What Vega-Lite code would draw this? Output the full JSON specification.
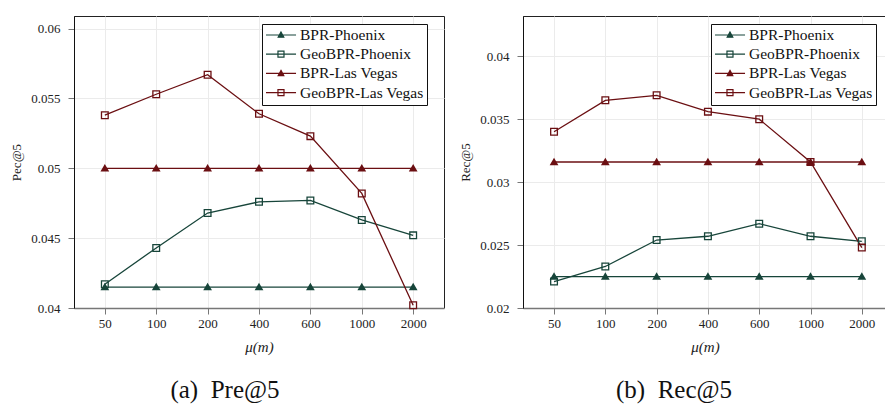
{
  "$schema": "https://vega.github.io/schema/vega-lite/v6.json",
  "padding": {"left": 10, "top": 15, "right": 0, "bottom": 0},
  "spacing": 14,
  "datasets": {
    "scores": [
      {"metric": "Pre@5", "series": "BPR-Phoenix", "mu": "50", "value": 0.0415},
      {"metric": "Pre@5", "series": "BPR-Phoenix", "mu": "100", "value": 0.0415},
      {"metric": "Pre@5", "series": "BPR-Phoenix", "mu": "200", "value": 0.0415},
      {"metric": "Pre@5", "series": "BPR-Phoenix", "mu": "400", "value": 0.0415},
      {"metric": "Pre@5", "series": "BPR-Phoenix", "mu": "600", "value": 0.0415},
      {"metric": "Pre@5", "series": "BPR-Phoenix", "mu": "1000", "value": 0.0415},
      {"metric": "Pre@5", "series": "BPR-Phoenix", "mu": "2000", "value": 0.0415},
      {"metric": "Pre@5", "series": "GeoBPR-Phoenix", "mu": "50", "value": 0.0417},
      {"metric": "Pre@5", "series": "GeoBPR-Phoenix", "mu": "100", "value": 0.0443},
      {"metric": "Pre@5", "series": "GeoBPR-Phoenix", "mu": "200", "value": 0.0468},
      {"metric": "Pre@5", "series": "GeoBPR-Phoenix", "mu": "400", "value": 0.0476},
      {"metric": "Pre@5", "series": "GeoBPR-Phoenix", "mu": "600", "value": 0.0477},
      {"metric": "Pre@5", "series": "GeoBPR-Phoenix", "mu": "1000", "value": 0.0463},
      {"metric": "Pre@5", "series": "GeoBPR-Phoenix", "mu": "2000", "value": 0.0452},
      {"metric": "Pre@5", "series": "BPR-Las Vegas", "mu": "50", "value": 0.05},
      {"metric": "Pre@5", "series": "BPR-Las Vegas", "mu": "100", "value": 0.05},
      {"metric": "Pre@5", "series": "BPR-Las Vegas", "mu": "200", "value": 0.05},
      {"metric": "Pre@5", "series": "BPR-Las Vegas", "mu": "400", "value": 0.05},
      {"metric": "Pre@5", "series": "BPR-Las Vegas", "mu": "600", "value": 0.05},
      {"metric": "Pre@5", "series": "BPR-Las Vegas", "mu": "1000", "value": 0.05},
      {"metric": "Pre@5", "series": "BPR-Las Vegas", "mu": "2000", "value": 0.05},
      {"metric": "Pre@5", "series": "GeoBPR-Las Vegas", "mu": "50", "value": 0.0538},
      {"metric": "Pre@5", "series": "GeoBPR-Las Vegas", "mu": "100", "value": 0.0553},
      {"metric": "Pre@5", "series": "GeoBPR-Las Vegas", "mu": "200", "value": 0.0567},
      {"metric": "Pre@5", "series": "GeoBPR-Las Vegas", "mu": "400", "value": 0.0539},
      {"metric": "Pre@5", "series": "GeoBPR-Las Vegas", "mu": "600", "value": 0.0523},
      {"metric": "Pre@5", "series": "GeoBPR-Las Vegas", "mu": "1000", "value": 0.0482},
      {"metric": "Pre@5", "series": "GeoBPR-Las Vegas", "mu": "2000", "value": 0.0402},
      {"metric": "Rec@5", "series": "BPR-Phoenix", "mu": "50", "value": 0.0225},
      {"metric": "Rec@5", "series": "BPR-Phoenix", "mu": "100", "value": 0.0225},
      {"metric": "Rec@5", "series": "BPR-Phoenix", "mu": "200", "value": 0.0225},
      {"metric": "Rec@5", "series": "BPR-Phoenix", "mu": "400", "value": 0.0225},
      {"metric": "Rec@5", "series": "BPR-Phoenix", "mu": "600", "value": 0.0225},
      {"metric": "Rec@5", "series": "BPR-Phoenix", "mu": "1000", "value": 0.0225},
      {"metric": "Rec@5", "series": "BPR-Phoenix", "mu": "2000", "value": 0.0225},
      {"metric": "Rec@5", "series": "GeoBPR-Phoenix", "mu": "50", "value": 0.0221},
      {"metric": "Rec@5", "series": "GeoBPR-Phoenix", "mu": "100", "value": 0.0233},
      {"metric": "Rec@5", "series": "GeoBPR-Phoenix", "mu": "200", "value": 0.0254},
      {"metric": "Rec@5", "series": "GeoBPR-Phoenix", "mu": "400", "value": 0.0257},
      {"metric": "Rec@5", "series": "GeoBPR-Phoenix", "mu": "600", "value": 0.0267},
      {"metric": "Rec@5", "series": "GeoBPR-Phoenix", "mu": "1000", "value": 0.0257},
      {"metric": "Rec@5", "series": "GeoBPR-Phoenix", "mu": "2000", "value": 0.0253},
      {"metric": "Rec@5", "series": "BPR-Las Vegas", "mu": "50", "value": 0.0316},
      {"metric": "Rec@5", "series": "BPR-Las Vegas", "mu": "100", "value": 0.0316},
      {"metric": "Rec@5", "series": "BPR-Las Vegas", "mu": "200", "value": 0.0316},
      {"metric": "Rec@5", "series": "BPR-Las Vegas", "mu": "400", "value": 0.0316},
      {"metric": "Rec@5", "series": "BPR-Las Vegas", "mu": "600", "value": 0.0316},
      {"metric": "Rec@5", "series": "BPR-Las Vegas", "mu": "1000", "value": 0.0316},
      {"metric": "Rec@5", "series": "BPR-Las Vegas", "mu": "2000", "value": 0.0316},
      {"metric": "Rec@5", "series": "GeoBPR-Las Vegas", "mu": "50", "value": 0.034},
      {"metric": "Rec@5", "series": "GeoBPR-Las Vegas", "mu": "100", "value": 0.0365},
      {"metric": "Rec@5", "series": "GeoBPR-Las Vegas", "mu": "200", "value": 0.0369},
      {"metric": "Rec@5", "series": "GeoBPR-Las Vegas", "mu": "400", "value": 0.0356},
      {"metric": "Rec@5", "series": "GeoBPR-Las Vegas", "mu": "600", "value": 0.035},
      {"metric": "Rec@5", "series": "GeoBPR-Las Vegas", "mu": "1000", "value": 0.0316},
      {"metric": "Rec@5", "series": "GeoBPR-Las Vegas", "mu": "2000", "value": 0.0248}
    ]
  },
  "data": {"name": "scores"},
  "hconcat": [
    {
      "width": 370,
      "height": 292,
      "title": {"text": "(a)\u00a0\u00a0Pre@5", "orient": "bottom", "anchor": "middle", "dx": -34, "offset": 24},
      "transform": [{"filter": "datum.metric === 'Pre@5'"}],
      "encoding": {
        "x": {"field": "mu", "type": "ordinal", "sort": ["50", "100", "200", "400", "600", "1000", "2000"], "scale": {"type": "point", "padding": 0.6}, "axis": {"title": "μ(m)", "labelAngle": 0, "grid": true}},
        "y": {"field": "value", "type": "quantitative", "scale": {"domain": [0.04, 0.0609], "nice": false, "zero": false}, "axis": {"title": "Pec@5", "values": [0.04, 0.045, 0.05, 0.055, 0.06], "format": ".3~f"}},
        "stroke": {"field": "series", "type": "nominal",
          "scale": {"domain": ["BPR-Phoenix", "GeoBPR-Phoenix", "BPR-Las Vegas", "GeoBPR-Las Vegas"], "range": ["#17453a", "#17453a", "#6b0f12", "#6b0f12"]},
          "legend": {"orient": "none", "legendX": 188, "legendY": 8, "title": null, "symbolSize": 196}}
      },
      "layer": [
        {"mark": {"type": "line", "strokeWidth": 1.3}},
        {
          "transform": [{"filter": "indexof(datum.series, 'Geo') < 0"}],
          "mark": {"type": "point", "shape": "triangle-up", "filled": true, "size": 28, "opacity": 1},
          "encoding": {"fill": {"field": "series", "type": "nominal"}}
        },
        {
          "transform": [{"filter": "indexof(datum.series, 'Geo') >= 0"}],
          "mark": {"type": "point", "shape": "square", "filled": false, "size": 45, "strokeWidth": 1.3, "opacity": 1}
        },
        {
          "mark": {"type": "point", "filled": false, "size": 0, "opacity": 1},
          "encoding": {
            "fill": {"field": "series", "type": "nominal",
              "scale": {"domain": ["BPR-Phoenix", "GeoBPR-Phoenix", "BPR-Las Vegas", "GeoBPR-Las Vegas"], "range": ["#17453a", "transparent", "#6b0f12", "transparent"]},
              "legend": {"orient": "none", "legendX": 188, "legendY": 8, "title": null, "symbolSize": 196}},
            "shape": {"field": "series", "type": "nominal",
              "scale": {"domain": ["BPR-Phoenix", "GeoBPR-Phoenix", "BPR-Las Vegas", "GeoBPR-Las Vegas"],
                "range": ["M-1,0H3.29M1.14,-0.43L1.54,0.31L0.74,0.31Z", "M-1,0H3.29M0.71,-0.43H1.57V0.43H0.71Z", "M-1,0H3.29M1.14,-0.43L1.54,0.31L0.74,0.31Z", "M-1,0H3.29M0.71,-0.43H1.57V0.43H0.71Z"]},
              "legend": {"orient": "none", "legendX": 188, "legendY": 8, "title": null, "symbolSize": 196}}
          }
        }
      ]
    },
    {
      "width": 364,
      "height": 292,
      "title": {"text": "(b)\u00a0\u00a0Rec@5", "orient": "bottom", "anchor": "middle", "dx": -31, "offset": 24},
      "transform": [{"filter": "datum.metric === 'Rec@5'"}],
      "encoding": {
        "x": {"field": "mu", "type": "ordinal", "sort": ["50", "100", "200", "400", "600", "1000", "2000"], "scale": {"type": "point", "padding": 0.548, "align": 0.552}, "axis": {"title": "μ(m)", "labelAngle": 0, "grid": true}},
        "y": {"field": "value", "type": "quantitative", "scale": {"domain": [0.02, 0.0432], "nice": false, "zero": false}, "axis": {"title": "Rec@5", "values": [0.02, 0.025, 0.03, 0.035, 0.04], "format": ".3~f"}},
        "stroke": {"field": "series", "type": "nominal",
          "scale": {"domain": ["BPR-Phoenix", "GeoBPR-Phoenix", "BPR-Las Vegas", "GeoBPR-Las Vegas"], "range": ["#17453a", "#17453a", "#6b0f12", "#6b0f12"]},
          "legend": {"orient": "none", "legendX": 188, "legendY": 8, "title": null, "symbolSize": 196}}
      },
      "layer": [
        {"mark": {"type": "line", "strokeWidth": 1.3}},
        {
          "transform": [{"filter": "indexof(datum.series, 'Geo') < 0"}],
          "mark": {"type": "point", "shape": "triangle-up", "filled": true, "size": 28, "opacity": 1},
          "encoding": {"fill": {"field": "series", "type": "nominal"}}
        },
        {
          "transform": [{"filter": "indexof(datum.series, 'Geo') >= 0"}],
          "mark": {"type": "point", "shape": "square", "filled": false, "size": 45, "strokeWidth": 1.3, "opacity": 1}
        },
        {
          "mark": {"type": "point", "filled": false, "size": 0, "opacity": 1},
          "encoding": {
            "fill": {"field": "series", "type": "nominal",
              "scale": {"domain": ["BPR-Phoenix", "GeoBPR-Phoenix", "BPR-Las Vegas", "GeoBPR-Las Vegas"], "range": ["#17453a", "transparent", "#6b0f12", "transparent"]},
              "legend": {"orient": "none", "legendX": 188, "legendY": 8, "title": null, "symbolSize": 196}},
            "shape": {"field": "series", "type": "nominal",
              "scale": {"domain": ["BPR-Phoenix", "GeoBPR-Phoenix", "BPR-Las Vegas", "GeoBPR-Las Vegas"],
                "range": ["M-1,0H3.29M1.14,-0.43L1.54,0.31L0.74,0.31Z", "M-1,0H3.29M0.71,-0.43H1.57V0.43H0.71Z", "M-1,0H3.29M1.14,-0.43L1.54,0.31L0.74,0.31Z", "M-1,0H3.29M0.71,-0.43H1.57V0.43H0.71Z"]},
              "legend": {"orient": "none", "legendX": 188, "legendY": 8, "title": null, "symbolSize": 196}}
          }
        }
      ]
    }
  ],
  "resolve": {"scale": {"stroke": "independent", "fill": "independent", "shape": "independent"}},
  "config": {
    "font": "Liberation Serif",
    "view": {"stroke": "#222", "strokeWidth": 1},
    "title": {"font": "Liberation Serif", "fontSize": 25, "fontWeight": "normal", "color": "#111"},
    "legend": {
      "labelFont": "Liberation Serif", "labelFontSize": 15.5, "labelColor": "#111", "labelOffset": 19,
      "padding": 3, "rowPadding": 2.2, "strokeColor": "#111", "fillColor": "white", "cornerRadius": 0,
      "symbolStrokeWidth": 1.2, "symbolOpacity": 1
    },
    "axis": {
      "labelFont": "Liberation Serif", "labelFontSize": 13, "labelColor": "#222",
      "titleFont": "Liberation Serif", "titleFontWeight": "normal", "titleColor": "#222",
      "gridColor": "#ebebeb", "gridWidth": 1,
      "tickColor": "#777", "tickSize": 6, "labelPadding": 8
    },
    "axisX": {"domainColor": "#777", "domainWidth": 1.6, "titleFontSize": 15, "titleFontStyle": "italic", "titlePadding": 9, "labelPadding": 3},
    "axisY": {"domainColor": "#111", "domainWidth": 1, "titleFontSize": 13, "titlePadding": 7}
  }
}
